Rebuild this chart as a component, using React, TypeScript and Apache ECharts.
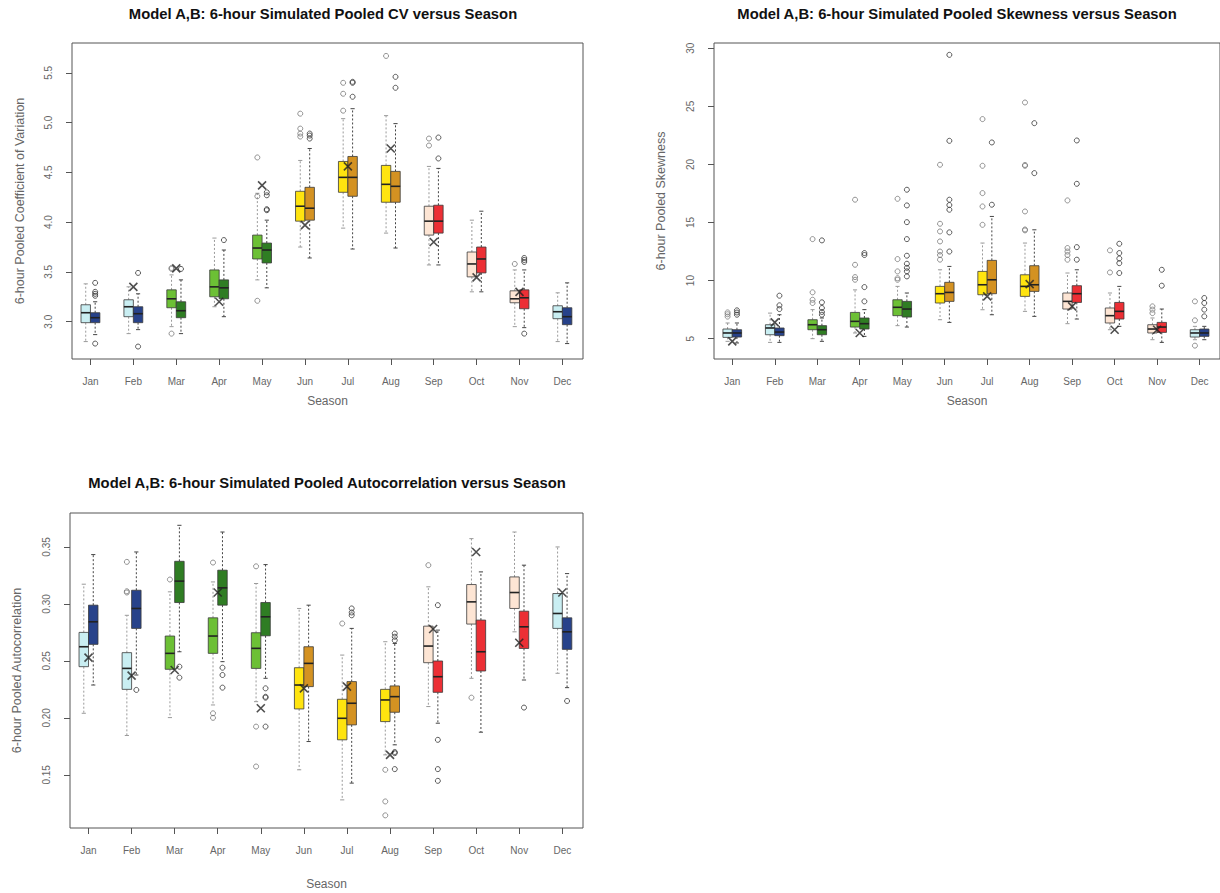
import React, { useEffect, useRef } from "react";
import * as echarts from "echarts";

type Box = [number, number, number, number, number]; // low whisker, Q1, median, Q3, high whisker

const months = ["Jan", "Feb", "Mar", "Apr", "May", "Jun", "Jul", "Aug", "Sep", "Oct", "Nov", "Dec"];
const lightColors = ["#c9eef2", "#c9eef2", "#6cc035", "#6cc035", "#6cc035", "#ffe40f", "#ffe40f", "#ffe40f", "#fde5d4", "#fde5d4", "#fde5d4", "#c9eef2"];
const darkColors = ["#27428a", "#27428a", "#2f7d23", "#2f7d23", "#2f7d23", "#d49222", "#d49222", "#d49222", "#ec2f35", "#ec2f35", "#ec2f35", "#27428a"];

const titles = [
  "Model A,B: 6-hour Simulated Pooled CV versus Season",
  "Model A,B: 6-hour Simulated Pooled Skewness versus Season",
  "Model A,B: 6-hour Simulated Pooled Autocorrelation versus Season",
];
const yNames = ["6-hour Pooled Coefficient of Variation", "6-hour Pooled Skewness", "6-hour Pooled Autocorrelation"];
const xName = "Season";

// ---------- Panel 1: CV ----------
const cvTicks = [3.0, 3.5, 4.0, 4.5, 5.0, 5.5];
const cvLight: Box[] = [
  [2.80, 2.99, 3.09, 3.17, 3.38], [2.88, 3.05, 3.15, 3.22, 3.35], [2.95, 3.14, 3.23, 3.32, 3.47],
  [3.15, 3.25, 3.35, 3.52, 3.84], [3.42, 3.63, 3.74, 3.87, 4.29], [3.75, 4.01, 4.16, 4.31, 4.62],
  [3.94, 4.30, 4.45, 4.61, 5.04], [3.89, 4.20, 4.38, 4.57, 5.07], [3.57, 3.87, 4.01, 4.16, 4.56],
  [3.30, 3.45, 3.58, 3.70, 4.02], [2.95, 3.19, 3.23, 3.31, 3.52], [2.80, 3.03, 3.10, 3.16, 3.29],
];
const cvDark: Box[] = [
  [2.87, 2.99, 3.04, 3.09, 3.20], [2.92, 2.99, 3.08, 3.15, 3.28], [2.88, 3.04, 3.11, 3.20, 3.42],
  [3.05, 3.23, 3.34, 3.42, 3.72], [3.34, 3.59, 3.72, 3.79, 4.02], [3.64, 4.02, 4.14, 4.35, 4.74],
  [3.73, 4.26, 4.45, 4.66, 5.14], [3.74, 4.20, 4.36, 4.51, 4.99], [3.57, 3.89, 4.01, 4.17, 4.54],
  [3.30, 3.49, 3.63, 3.75, 4.11], [2.94, 3.13, 3.24, 3.32, 3.52], [2.78, 2.97, 3.05, 3.14, 3.39],
];
const cvLightOut: number[][] = [
  [], [], [3.54, 3.53, 2.88], [], [4.65, 4.26, 3.21], [5.09, 4.94, 4.89, 4.86],
  [5.40, 5.29, 5.12], [5.67], [4.84, 4.77], [], [3.58], [],
];
const cvDarkOut: number[][] = [
  [3.26, 3.28, 3.30, 3.39, 2.78], [3.49, 2.75], [3.53], [3.82], [4.30, 4.27, 4.12, 4.13], [4.89, 4.87, 4.84],
  [5.40, 5.41, 5.26], [5.46, 5.35], [4.85, 4.64], [], [3.60, 3.62, 3.64, 2.88], [],
];
const cvObserved: (number | null)[] = [null, 3.35, 3.535, 3.20, 4.37, 3.97, 4.56, 4.74, 3.80, 3.445, 3.30, null];

// ---------- Panel 2: Skewness ----------
const skTicks = [5, 10, 15, 20, 25, 30];
const skLight: Box[] = [
  [4.77, 5.11, 5.49, 5.83, 6.35], [4.68, 5.34, 5.92, 6.20, 7.20], [5.00, 5.77, 6.20, 6.63, 7.50],
  [5.49, 6.00, 6.49, 7.26, 9.20], [6.12, 6.98, 7.70, 8.35, 9.50], [6.63, 8.07, 8.87, 9.50, 10.93],
  [7.49, 8.78, 9.64, 10.79, 13.23], [7.35, 8.64, 9.50, 10.50, 13.23], [6.29, 7.55, 8.21, 8.93, 10.65],
  [5.77, 6.35, 6.98, 7.64, 8.93], [4.91, 5.49, 5.83, 6.20, 6.78], [4.91, 5.14, 5.49, 5.77, 6.06],
];
const skDark: Box[] = [
  [4.63, 5.14, 5.49, 5.77, 6.35], [4.68, 5.26, 5.57, 5.92, 7.06], [4.77, 5.34, 5.77, 6.12, 6.78],
  [5.20, 5.83, 6.29, 6.78, 7.50], [6.00, 6.86, 7.55, 8.21, 8.93], [6.40, 8.21, 8.98, 9.85, 11.22],
  [7.06, 8.87, 10.07, 11.74, 15.52], [6.92, 9.07, 9.64, 11.28, 14.37], [6.69, 8.12, 8.87, 9.56, 10.93],
  [6.06, 6.69, 7.35, 8.12, 9.50], [4.68, 5.54, 6.00, 6.40, 7.55], [4.91, 5.20, 5.49, 5.83, 6.06],
];
const skLightOut: number[][] = [
  [7.26, 7.10, 6.90], [], [13.57, 8.99, 8.35, 8.07], [16.96, 11.36, 10.30, 10.07],
  [17.04, 11.85, 10.79, 10.20, 10.07], [19.97, 14.89, 14.23, 13.37, 12.50, 12.20, 11.80],
  [23.90, 19.88, 17.53, 16.38, 14.80], [25.33, 19.88, 19.95, 15.95, 14.32, 14.40],
  [16.90, 12.80, 12.50, 12.20, 11.80], [12.60, 10.70], [7.78, 7.50, 7.20], [8.21, 6.58, 4.40],
];
const skDarkOut: number[][] = [
  [7.44, 7.25, 7.06], [8.70, 7.87, 7.55], [13.46, 8.13, 7.64, 7.30, 7.06], [12.37, 12.20, 9.44, 8.21],
  [17.82, 16.47, 15.03, 13.57, 12.14, 11.45, 11.10, 10.80, 10.36], [29.43, 22.03, 16.96, 16.50, 16.10, 14.15, 12.50],
  [21.89, 16.53], [23.55, 19.25], [22.06, 18.33, 12.88, 11.80], [13.17, 12.37, 11.90, 11.50, 10.65],
  [10.93, 9.56], [8.50, 8.07, 7.50, 6.92],
];
const skObserved: (number | null)[] = [4.77, 6.40, null, 5.49, null, null, 8.64, 9.70, 7.78, 5.77, 5.77, null];

// ---------- Panel 3: Autocorrelation ----------
const acTicks = [0.15, 0.20, 0.25, 0.30, 0.35];
const acLight: Box[] = [
  [0.204, 0.2449, 0.2624, 0.275, 0.3173], [0.1845, 0.225, 0.2434, 0.2572, 0.290], [0.2002, 0.2426, 0.2566, 0.2718, 0.3106],
  [0.2113, 0.2566, 0.2718, 0.2878, 0.3193], [0.2142, 0.2434, 0.261, 0.2747, 0.3179], [0.1544, 0.2078, 0.2288, 0.244, 0.296],
  [0.128, 0.1807, 0.1996, 0.2163, 0.2551], [0.1675, 0.1967, 0.2157, 0.225, 0.2668], [0.2099, 0.2484, 0.263, 0.2805, 0.315],
  [0.2347, 0.2823, 0.3018, 0.317, 0.3573], [0.2755, 0.296, 0.31, 0.3237, 0.3631], [0.2391, 0.2785, 0.2916, 0.3091, 0.35],
];
const acDark: Box[] = [
  [0.2288, 0.2645, 0.2843, 0.2989, 0.3433], [0.2376, 0.2785, 0.296, 0.312, 0.3456], [0.258, 0.3012, 0.32, 0.3374, 0.369],
  [0.2493, 0.2989, 0.3141, 0.3296, 0.3631], [0.2347, 0.272, 0.2887, 0.3012, 0.3345], [0.1792, 0.2274, 0.2478, 0.2624, 0.2989],
  [0.1427, 0.1938, 0.2128, 0.2318, 0.2785], [0.1763, 0.2049, 0.2186, 0.228, 0.2653], [0.1953, 0.2224, 0.2361, 0.2499, 0.277],
  [0.1874, 0.2411, 0.258, 0.2858, 0.3281], [0.2332, 0.2609, 0.2799, 0.2936, 0.334], [0.2265, 0.2601, 0.2755, 0.2878, 0.3266],
];
const acLightOut: number[][] = [
  [], [0.3369, 0.3111, 0.31], [0.3214], [0.3363, 0.204, 0.200], [0.333, 0.1923, 0.1573], [],
  [0.2828], [0.1544, 0.1266, 0.1144], [0.334], [0.2177], [], [],
];
const acDarkOut: number[][] = [
  [], [0.2245], [0.2449, 0.2353], [0.244, 0.2376, 0.2265], [0.2259, 0.2177, 0.2185, 0.1923], [],
  [0.296, 0.2925, 0.290], [0.274, 0.2712, 0.268, 0.169, 0.170, 0.155], [0.2989, 0.1807, 0.155, 0.1447],
  [], [0.209], [0.2148],
];
const acObserved: (number | null)[] = [0.2528, 0.237, 0.242, 0.31, 0.2084, 0.2259, 0.2274, 0.1675, 0.278, 0.3456, 0.2659, 0.31];

const FONT = '"Liberation Sans", Arial, Helvetica, sans-serif';
const BOX_W = 0.22;
const X_MIN = 0.57;
const X_MAX = 12.48;
const monthPos = months.map((_, i) => i + 1);

function boxSeries(axis: number, name: string, boxes: Box[], colors: string[], side: number, whisker: string) {
  return {
    type: "custom",
    name,
    xAxisIndex: axis,
    yAxisIndex: axis,
    data: boxes.map((b, i) => [i + 1, ...b]),
    encode: { x: 0, y: [1, 2, 3, 4, 5] },
    z: 2,
    silent: true,
    renderItem: (params: any, api: any) => {
      const m = api.value(0) as number;
      const x0 = side < 0 ? m - BOX_W : m;
      const x1 = x0 + BOX_W;
      const xc = (x0 + x1) / 2;
      const a = api.coord([x0, api.value(4)]);
      const b = api.coord([x1, api.value(2)]);
      const pcx = (a[0] + b[0]) / 2;
      const pLow = api.coord([xc, api.value(1)])[1];
      const pMed = api.coord([xc, api.value(3)])[1];
      const pHigh = api.coord([xc, api.value(5)])[1];
      const sw = (b[0] - a[0]) * 0.22;
      const dash = { stroke: whisker, lineWidth: 1, lineDash: [2, 2] };
      const solid = { stroke: whisker, lineWidth: 1 };
      return {
        type: "group",
        children: [
          { type: "line", shape: { x1: pcx, y1: a[1], x2: pcx, y2: pHigh }, style: dash },
          { type: "line", shape: { x1: pcx, y1: b[1], x2: pcx, y2: pLow }, style: dash },
          { type: "line", shape: { x1: pcx - sw, y1: pHigh, x2: pcx + sw, y2: pHigh }, style: solid },
          { type: "line", shape: { x1: pcx - sw, y1: pLow, x2: pcx + sw, y2: pLow }, style: solid },
          {
            type: "rect",
            shape: { x: a[0], y: a[1], width: b[0] - a[0], height: b[1] - a[1] },
            style: { fill: colors[params.dataIndex], stroke: "#3a3a3a", lineWidth: 0.8 },
          },
          { type: "line", shape: { x1: a[0], y1: pMed, x2: b[0], y2: pMed }, style: { stroke: "#222", lineWidth: 1.6 } },
        ],
      };
    },
  };
}

function outlierSeries(axis: number, outs: number[][], side: number, color: string) {
  const data: number[][] = [];
  outs.forEach((vals, i) => vals.forEach((v) => data.push([i + 1 + (side * BOX_W) / 2, v])));
  return {
    type: "scatter",
    xAxisIndex: axis,
    yAxisIndex: axis,
    data,
    symbol: "circle",
    symbolSize: 5,
    silent: true,
    itemStyle: { color: "rgba(0,0,0,0)", borderColor: color, borderWidth: 1 },
    z: 3,
  };
}

function observedSeries(axis: number, obs: (number | null)[]) {
  const data: number[][] = [];
  obs.forEach((v, i) => {
    if (v != null) data.push([i + 1, v]);
  });
  return {
    type: "scatter",
    xAxisIndex: axis,
    yAxisIndex: axis,
    data,
    symbol: "path://M0,0L10,10M10,0L0,10",
    symbolSize: 8,
    silent: true,
    itemStyle: { color: "rgba(0,0,0,0)", borderColor: "#222", borderWidth: 1.6 },
    z: 4,
  };
}

function xAxis(grid: number, nameGap: number) {
  return {
    type: "value",
    gridIndex: grid,
    min: X_MIN,
    max: X_MAX,
    name: xName,
    nameLocation: "middle",
    nameGap,
    nameTextStyle: { color: "#666", fontSize: 12, fontFamily: FONT },
    axisLine: { show: false },
    splitLine: { show: false },
    axisTick: { show: true, customValues: monthPos, length: 6, lineStyle: { color: "#555" } },
    axisLabel: {
      customValues: monthPos,
      formatter: (v: number) => months[Math.round(v) - 1] ?? "",
      margin: 17,
      color: "#666",
      fontSize: 10,
      fontFamily: FONT,
    },
  };
}

function yAxis(grid: number, min: number, max: number, ticks: number[], digits: number, name: string, nameGap: number) {
  return {
    type: "value",
    gridIndex: grid,
    min,
    max,
    name,
    nameLocation: "middle",
    nameGap,
    nameRotate: 90,
    nameTextStyle: { color: "#666", fontSize: 12.5, fontFamily: FONT },
    axisLine: { show: false },
    splitLine: { show: false },
    axisTick: { show: true, customValues: ticks, length: 6, lineStyle: { color: "#555" } },
    axisLabel: {
      customValues: ticks,
      rotate: 90,
      formatter: (v: number) => v.toFixed(digits),
      margin: 19,
      color: "#666",
      fontSize: 10,
      fontFamily: FONT,
    },
  };
}

export default function App() {
  const ref = useRef<HTMLDivElement>(null);

  useEffect(() => {
    if (!ref.current) return;
    const chart = echarts.init(ref.current, undefined, { renderer: "svg" });
    const gridStyle = { show: true, borderColor: "#555", borderWidth: 1, backgroundColor: "#fff" };
    const titleStyle = (text: string) => ({
      text,
      font: `bold 14.8px ${FONT}`,
      fill: "#111",
      align: "center",
      verticalAlign: "middle",
    });
    chart.setOption({
      animation: false,
      backgroundColor: "#fff",
      textStyle: { fontFamily: FONT },
      grid: [
        { left: 72, top: 43, width: 511, height: 316, ...gridStyle },
        { left: 714, top: 43, width: 512, height: 316, ...gridStyle },
        { left: 70, top: 513, width: 513, height: 315, ...gridStyle },
      ],
      xAxis: [xAxis(0, 36), xAxis(1, 36), xAxis(2, 50)],
      yAxis: [
        yAxis(0, 2.625, 5.8, cvTicks, 1, yNames[0], 46),
        yAxis(1, 3.25, 30.45, skTicks, 0, yNames[1], 47),
        yAxis(2, 0.1033, 0.3798, acTicks, 2, yNames[2], 47),
      ],
      graphic: [
        { type: "text", x: 323, y: 14, style: titleStyle(titles[0]) },
        { type: "text", x: 957, y: 14, style: titleStyle(titles[1]) },
        { type: "text", x: 327, y: 483, style: titleStyle(titles[2]) },
      ],
      series: [
        boxSeries(0, "CV light", cvLight, lightColors, -1, "#9a9a9a"),
        boxSeries(0, "CV dark", cvDark, darkColors, 1, "#444"),
        outlierSeries(0, cvLightOut, -1, "#777"),
        outlierSeries(0, cvDarkOut, 1, "#333"),
        observedSeries(0, cvObserved),
        boxSeries(1, "Skewness light", skLight, lightColors, -1, "#9a9a9a"),
        boxSeries(1, "Skewness dark", skDark, darkColors, 1, "#444"),
        outlierSeries(1, skLightOut, -1, "#777"),
        outlierSeries(1, skDarkOut, 1, "#333"),
        observedSeries(1, skObserved),
        boxSeries(2, "Autocorrelation light", acLight, lightColors, -1, "#9a9a9a"),
        boxSeries(2, "Autocorrelation dark", acDark, darkColors, 1, "#444"),
        outlierSeries(2, acLightOut, -1, "#777"),
        outlierSeries(2, acDarkOut, 1, "#333"),
        observedSeries(2, acObserved),
      ],
    });
    return () => chart.dispose();
  }, []);

  return (
    <div
      ref={ref}
      style={{ position: "absolute", left: 0, top: 0, width: 1220, height: 893, background: "#fff" }}
    />
  );
}
